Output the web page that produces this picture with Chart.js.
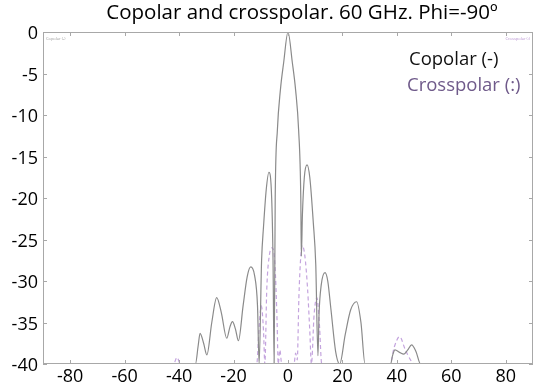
<!DOCTYPE html>
<html lang="en">
<head>
  <meta charset="UTF-8">
  <title>Copolar and crosspolar. 60 GHz. Phi=-90º</title>
  <script src="https://cdn.jsdelivr.net/npm/chart.js"></script>
  <style>
    body {
      margin: 0;
      background: #ffffff;
    }
    canvas {
      display: block;
    }
  </style>
</head>
<body>
  <canvas id="patternChart" width="542" height="392"></canvas>

  <script>
    const titleText = 'Copolar and crosspolar. 60 GHz. Phi=-90º';
    const xTicks = [-80, -60, -40, -20, 0, 20, 40, 60, 80];
    const yTicks = [0, -5, -10, -15, -20, -25, -30, -35, -40];

    // Copolar (solid), angle in degrees / level in dB
    const copolarAngle = [-90, -34, -33, -32.3, -31, -29.8, -28, -26.2, -24.5, -22.5, -21.3, -20.4, -19.3, -18.2,
      -16.5, -15, -13.7, -12.3, -11.2, -10.6, -9.7, -9, -8, -7, -6, -5.5, -5.1, -4.7, -3.9, -2.8, -1.6, 0,
      1.6, 2.8, 3.9, 4.7, 4.9, 5.3, 6, 7, 8, 9.3, 10.2, 11, 11.4, 12.2, 13.6, 14.6, 15.8, 17.5, 19,
      21, 23, 25.2, 26.8, 28.3, 37.7, 38.4, 39.3, 41, 42.6, 44, 45.4, 47, 48.7, 90];
    const copolarLevel = [-40, -40, -37.8, -36.3, -37.5, -38.9, -35, -32, -33.8, -36.9, -35.5, -34.9, -35.8, -37.2,
      -33, -29.5, -28.3, -29.3, -33, -40, -27.5, -23.5, -19, -16.9, -20, -27.5, -40, -20, -11.8, -7, -3.7, 0,
      -3.7, -7, -11.8, -20, -27, -22, -17.5, -16, -17.5, -23, -28, -39, -34, -30.5, -29, -30, -33.5, -38.5, -40,
      -36.5, -33.5, -32.5, -35, -40, -40, -39, -38.3, -38.6, -38.8, -38.3, -37.7, -38.5, -40, -40];

    // Crosspolar (dashed)
    const crossAngle = [-90, -42, -40.8, -39.5, -11.5, -10.6, -9.8, -9, -8.5, -7.8, -6.8, -5.8, -4.8, -4, -3.6, -3, -2.3,
      0, 2.2, 2.8, 3.4, 4, 4.6, 5.2, 6.2, 7.2, 8, 8.6, 9.6, 10.6, 11.5, 12.4, 37.5, 39, 41, 43, 45, 46.5, 90];
    const crossLevel = [-40, -40, -39.2, -40, -40, -35.5, -33, -36, -40, -31, -26.8, -26, -28, -35, -40, -38.3, -40,
      -40, -40, -38.7, -39.5, -32, -27.5, -25.7, -27, -31, -36, -40, -34, -32, -35, -40, -40, -38, -36.7, -38.2, -39.5, -40, -40];

    const toPoints = (xs, ys) => xs.map((x, i) => ({ x: x, y: ys[i] }));

    const decor = {
      id: 'decor',
      afterDatasetsDraw(chart) {
        const ctx = chart.ctx;
        const a = chart.chartArea;
        const xs = chart.scales.x;
        const ys = chart.scales.y;
        ctx.save();
        ctx.strokeStyle = '#a8a8a8';
        ctx.lineWidth = 1;
        ctx.strokeRect(a.left + 0.5, a.top + 0.5, a.right - a.left - 1, a.bottom - a.top - 1);
        ctx.beginPath();
        xTicks.forEach(v => {
          const px = Math.round(xs.getPixelForValue(v)) + 0.5;
          ctx.moveTo(px, a.top); ctx.lineTo(px, a.top + 4);
          ctx.moveTo(px, a.bottom); ctx.lineTo(px, a.bottom - 4);
        });
        yTicks.forEach(v => {
          const py = Math.round(ys.getPixelForValue(v)) + 0.5;
          ctx.moveTo(a.left, py); ctx.lineTo(a.left + 4, py);
          ctx.moveTo(a.right, py); ctx.lineTo(a.right - 4, py);
        });
        ctx.stroke();

        // title
        ctx.fillStyle = '#000';
        ctx.textAlign = 'center';
        ctx.textBaseline = 'middle';
        ctx.font = '20.5px "Open Sans"';
        ctx.fillText(titleText, 302, 13);

        // in-plot legend
        ctx.textAlign = 'left';
        ctx.font = '18.5px "Open Sans"';
        ctx.fillStyle = '#111';
        ctx.fillText('Copolar (-)', 409, 60);
        ctx.fillStyle = '#6f5a8a';
        ctx.fillText('Crosspolar (:)', 407, 86);

        // tiny legend labels
        ctx.font = '4px "Open Sans"';
        ctx.fillStyle = '#999';
        ctx.fillText('Copolar (-)', a.left + 3, a.top + 7);
        ctx.fillStyle = '#b58fd0';
        ctx.textAlign = 'right';
        ctx.fillText('Crosspolar (:)', a.right - 3, a.top + 7);
        ctx.restore();
      }
    };

    new Chart(document.getElementById('patternChart'), {
      type: 'line',
      data: {
        datasets: [
          {
            label: 'Copolar (-)',
            data: toPoints(copolarAngle, copolarLevel),
            borderColor: '#8a8a8a',
            borderWidth: 1.2,
            pointRadius: 0,
            cubicInterpolationMode: 'monotone'
          },
          {
            label: 'Crosspolar (:)',
            data: toPoints(crossAngle, crossLevel),
            borderColor: '#c4a4de',
            borderWidth: 1.2,
            borderDash: [4, 3],
            pointRadius: 0,
            cubicInterpolationMode: 'monotone'
          }
        ]
      },
      options: {
        responsive: false,
        animation: false,
        layout: {
          padding: { top: 32, right: 9, left: 0, bottom: 0 }
        },
        plugins: {
          legend: { display: false },
          title: { display: false },
          tooltip: { enabled: false }
        },
        scales: {
          x: {
            type: 'linear',
            min: -90,
            max: 90,
            afterBuildTicks: scale => { scale.ticks = xTicks.map(v => ({ value: v })); },
            afterFit: scale => { scale.height = 28; },
            grid: { display: false, drawTicks: false },
            border: { display: false },
            ticks: {
              padding: 2,
              color: '#000',
              font: { family: 'Open Sans', size: 18 }
            }
          },
          y: {
            type: 'linear',
            min: -40,
            max: 0,
            afterBuildTicks: scale => { scale.ticks = yTicks.map(v => ({ value: v })); },
            afterFit: scale => { scale.width = 43; },
            grid: { display: false, drawTicks: false },
            border: { display: false },
            ticks: {
              padding: 5,
              labelOffset: 2,
              color: '#000',
              font: { family: 'Open Sans', size: 18 }
            }
          }
        }
      },
      plugins: [decor]
    });
  </script>
</body>
</html>
